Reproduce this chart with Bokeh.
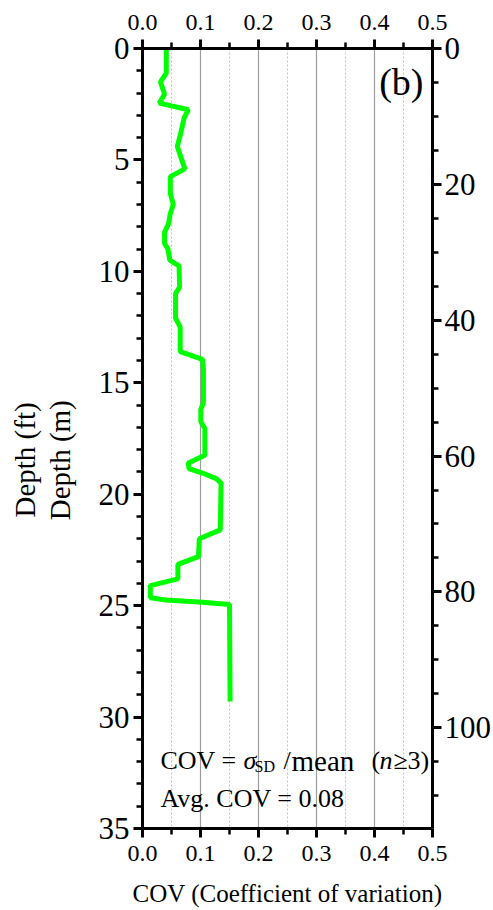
import math
from bokeh.plotting import figure
from bokeh.models import Range1d, LinearAxis, FixedTicker, PrintfTickFormatter, Label, Title
from bokeh.embed import file_html
from bokeh.resources import INLINE

# ---- data ----
depth_m = [0, 1.1, 1.5, 2.05, 2.45, 2.75, 3.1, 3.9, 4.4, 5.4, 5.75, 6.5, 7.0, 7.4, 7.85,
           8.25, 8.75, 9.0, 9.5, 9.75, 10.7, 11.0, 12.1, 12.5, 13.6, 13.95, 14.4, 15.9,
           16.2, 16.75, 17.05, 18.25, 18.6, 18.85, 19.05, 19.3, 19.5, 21.6, 22.0, 22.8,
           23.15, 23.8, 24.1, 24.65, 24.75, 24.85, 24.95, 29.3]
cov = [0.041, 0.041, 0.031, 0.038, 0.029, 0.079, 0.072, 0.065, 0.060, 0.073, 0.048,
       0.048, 0.053, 0.048, 0.045, 0.038, 0.038, 0.044, 0.047, 0.063, 0.064, 0.057,
       0.057, 0.065, 0.065, 0.1035, 0.105, 0.105, 0.1005, 0.1005, 0.1075, 0.1075,
       0.079, 0.080, 0.1035, 0.127, 0.1355, 0.134, 0.098, 0.0965, 0.061, 0.061,
       0.0135, 0.0135, 0.040, 0.1035, 0.150, 0.151]

cov_ticks = [0.0, 0.1, 0.2, 0.3, 0.4, 0.5]
cov_minor = [0.05, 0.15, 0.25, 0.35, 0.45]
grid_major = [0.1, 0.2, 0.3, 0.4]
m_ticks = [0, 5, 10, 15, 20, 25, 30, 35]
m_minor = [v for v in range(0, 36) if v % 5 != 0]
ft_ticks = [0, 20, 40, 60, 80, 100]
ft_minor = [v for v in range(0, 115, 5) if v % 20 != 0]
M_PER_FT = 0.3048
cov_max, depth_max = 0.5, 35

FONT = "Liberation Serif"
NBSP = "\u00a0"

# layout (canvas pixels)
L, T, FW, FH = 142, 48, 290, 780

p = figure(frame_width=FW, frame_height=FH, min_border_left=L, min_border_right=61,
           min_border_top=T, min_border_bottom=82,
           x_range=Range1d(0, cov_max), y_range=Range1d(depth_max, 0),
           output_backend="svg", toolbar_location=None)
p.extra_y_ranges = {"ft": Range1d(depth_max / M_PER_FT, 0)}
p.outline_line_color = None
p.background_fill_color = "white"
p.border_fill_color = "white"

def px2x(cx):
    return (cx - L) * cov_max / FW

def py2y(cy):
    return (cy - T) * depth_max / FH

def style(ax, size, standoff):
    ax.axis_line_width = 3
    ax.axis_line_color = "black"
    ax.major_tick_line_width = 3
    ax.minor_tick_line_width = 2.5
    ax.major_tick_in = 0
    ax.major_tick_out = 9
    ax.minor_tick_in = 0
    ax.minor_tick_out = 6
    ax.major_label_text_font = FONT
    ax.major_label_text_font_size = f"{size}px"
    ax.major_label_text_color = "black"
    ax.major_label_standoff = standoff
    ax.axis_label_text_color = "black"

# bottom
xb = p.xaxis[0]
xb.ticker = FixedTicker(ticks=cov_ticks, minor_ticks=cov_minor)
xb.formatter = PrintfTickFormatter(format="%.1f")
style(xb, 24, 8)
xb.axis_label = "COV (Coefficient of variation)"
xb.axis_label_text_font = FONT
xb.axis_label_text_font_style = "normal"
xb.axis_label_text_font_size = "25px"
xb.axis_label_standoff = 16

# top
xt = LinearAxis(ticker=FixedTicker(ticks=cov_ticks, minor_ticks=cov_minor),
                formatter=PrintfTickFormatter(format="%.1f"))
style(xt, 24, 10)
p.add_layout(xt, "above")

# left
yl = p.yaxis[0]
yl.ticker = FixedTicker(ticks=m_ticks, minor_ticks=m_minor)
style(yl, 31, 4)
yl.axis_label = "Depth (m)" + NBSP * 6
yl.axis_label_text_font = FONT
yl.axis_label_text_font_style = "normal"
yl.axis_label_text_font_size = "29px"
yl.axis_label_standoff = 20

# right
yr = LinearAxis(y_range_name="ft", ticker=FixedTicker(ticks=ft_ticks, minor_ticks=ft_minor))
style(yr, 31, 3)
p.add_layout(yr, "right")

# outer stacked depth title
p.add_layout(Title(text="Depth (ft)", align="left", offset=311, standoff=0,
                   vertical_align="bottom", text_font=FONT, text_font_size="29px",
                   text_font_style="normal", text_color="black"), "left")

# grid
p.ygrid.visible = False
p.xgrid.ticker = FixedTicker(ticks=grid_major, minor_ticks=cov_minor)
p.xgrid.grid_line_color = "#9c9c9c"
p.xgrid.grid_line_width = 1.2
p.xgrid.minor_grid_line_color = "#c4c4c4"
p.xgrid.minor_grid_line_dash = "2 2"
p.xgrid.minor_grid_line_width = 1

# data line
p.line(cov, depth_m, line_color="#00ff00", line_width=5)

def lab(text, cx, cy, size, align="left", style_="normal"):
    p.add_layout(Label(x=px2x(cx), y=py2y(cy), text=text, text_font=FONT,
                       text_font_size=f"{size}px", text_align=align,
                       text_baseline="alphabetic", text_font_style=style_,
                       text_color="black"))

# panel tag
lab("(b)", 423, 81, 38, align="right")

# annotation
lab("COV =", 160, 760, 26)
lab("\u03c3", 243, 760, 26, style_="italic")
lab("SD", 254, 766, 16)
lab("/", 283, 760, 26)
lab("mean", 291, 760, 29)
lab("(", 371, 760, 26)
lab("n", 379, 760, 26, style_="italic")
lab("\u2265", 393, 760, 26)
lab("3)", 407, 760, 26)
lab("Avg. COV = 0.08", 160, 798, 26)

open("out.html", "w").write(file_html(p, INLINE))
